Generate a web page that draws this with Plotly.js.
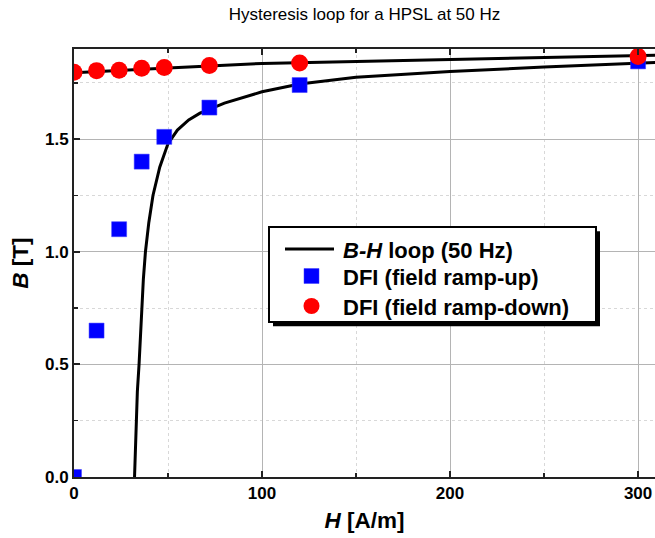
<!DOCTYPE html>
<html><head><meta charset="utf-8">
<script src="https://cdn.plot.ly/plotly-3.0.1.min.js"></script>
<style>html,body{margin:0;padding:0;background:#fff}</style>
</head><body>
<div id="chart" style="width:655px;height:538px"></div>
<script>
// B-H loop (50 Hz): upper (ramp-down) branch and lower (ramp-up) branch
const loopUpperH = [310, 250, 200, 150, 100, 50, 0];
const loopUpperB = [1.872, 1.862, 1.854, 1.846, 1.836, 1.816, 1.795];
const loopLowerH = [32.2, 32.6, 33.0, 33.7, 34.6, 35.2, 35.9, 36.9, 38.0, 39.8, 42.0, 45.6, 50.0, 55.0, 61.0, 67.0, 80.0, 100.0, 120.0, 150.0, 200.0, 250.0, 310.0];
const loopLowerB = [0.0, 0.12, 0.25, 0.38, 0.5, 0.62, 0.75, 0.88, 1.0, 1.13, 1.25, 1.375, 1.48, 1.54, 1.585, 1.615, 1.66, 1.71, 1.745, 1.775, 1.80, 1.82, 1.84];

// DFI measurements
const dfiH = [0, 12, 24, 36, 48, 72, 120, 300];
const dfiUpB = [0.0, 0.65, 1.10, 1.40, 1.51, 1.64, 1.74, 1.845];
const dfiDownB = [1.797, 1.804, 1.806, 1.815, 1.818, 1.827, 1.838, 1.867];

const legendLabels = ['<i>B-H</i> loop (50 Hz)', 'DFI (field ramp-up)', 'DFI (field ramp-down)'];
const titleText = 'Hysteresis loop for a HPSL at 50 Hz';

const F = 'Arial, "Liberation Sans", sans-serif';

const loopH = loopUpperH.concat([null], loopLowerH);
const loopB = loopUpperB.concat([null], loopLowerB);

const traces = [
  {x: loopH, y: loopB, mode: 'lines', name: legendLabels[0],
   line: {color: '#000', width: 3}, connectgaps: false},
  {x: dfiH, y: dfiUpB, mode: 'markers', name: legendLabels[1],
   marker: {symbol: 'square', size: 15, color: '#0000ff', line: {color: '#3f3fff', width: 0.5}}},
  {x: dfiH, y: dfiDownB, mode: 'markers', name: legendLabels[2],
   marker: {symbol: 'circle', size: 17, color: '#ff0000', line: {width: 0}}}
];

const axisCommon = {
  showline: true, linecolor: '#222', linewidth: 2,
  ticks: 'inside', ticklen: 6, tickwidth: 2, tickcolor: '#222',
  showgrid: true, gridcolor: '#b4b4b4', gridwidth: 1,
  zeroline: false, mirror: false,
  tickfont: {family: F, size: 17, color: '#000', weight: 'bold'}
};

const PL = 74, PW = 581, PT = 49, PH = 427.5;
// legend box (px) from the reference
const LG = {left: 268, top: 226, width: 327, height: 95, rows: [246, 276, 306], shadow: 5};
const py = function(v){ return 1 - (v - PT) / PH; };
const px = function(v){ return (v - PL) / PW; };

const layout = {
  width: 655, height: 538,
  margin: {l: PL, r: 0, t: PT, b: 61},
  paper_bgcolor: '#fff', plot_bgcolor: '#fff',
  showlegend: true,
  title: {text: titleText, font: {family: F, size: 17, color: '#000'},
          x: 0.5, xref: 'paper', y: 1 - 14/538, yref: 'container', yanchor: 'middle'},
  xaxis: Object.assign({}, axisCommon, {
    range: [0, 309], tickvals: [0, 100, 200, 300], mirror: 'ticks',
    minor: {tickvals: [50, 150, 250], ticks: 'inside', ticklen: 4, tickwidth: 1.5, tickcolor: '#222',
            showgrid: true, gridcolor: '#d8d8d8', griddash: 'dot', gridwidth: 1},
    title: {text: '<b><i>H</i> [A/m]</b>', font: {family: F, size: 22.5, color: '#000'}, standoff: 10}
  }),
  yaxis: Object.assign({}, axisCommon, {
    range: [0, 1.9], tickvals: [0, 0.5, 1.0, 1.5], tickformat: '.1f',
    minor: {tickvals: [0.25, 0.75, 1.25, 1.75], ticks: 'inside', ticklen: 4, tickwidth: 1.5, tickcolor: '#222',
            showgrid: true, gridcolor: '#d8d8d8', griddash: 'dot', gridwidth: 1},
    title: {text: '<b><i>B</i> [T]</b>', font: {family: F, size: 22.5, color: '#000'}, standoff: 10}
  }),
  legend: {
    x: px(LG.left), y: py(LG.top), xanchor: 'left', yanchor: 'top',
    bgcolor: '#fff', bordercolor: '#000', borderwidth: 2,
    font: {family: F, size: 22, color: '#000', weight: 'bold'},
    itemwidth: 63
  },
  shapes: [{type: 'rect', xref: 'paper', yref: 'paper',
    x0: px(LG.left + LG.shadow), x1: px(LG.left + LG.width + LG.shadow),
    y0: py(LG.top + LG.height + LG.shadow), y1: py(LG.top + LG.shadow),
    fillcolor: '#000', line: {width: 0}, layer: 'above'}]
};

function parseTr(t){
  const m = /translate\(\s*([-\d.e]+)[ ,]+([-\d.e]+)\s*\)/.exec(t || '');
  return m ? [parseFloat(m[1]), parseFloat(m[2])] : [0, 0];
}

Plotly.newPlot('chart', traces, layout, {displayModeBar: false, staticPlot: true}).then(function(gd){
  const bg = gd.querySelector('.legend .bg');
  if (!bg) return;
  // size the legend box like the reference
  let r = bg.getBoundingClientRect();
  bg.setAttribute('width', parseFloat(bg.getAttribute('width')) + (LG.width - r.width));
  bg.setAttribute('height', parseFloat(bg.getAttribute('height')) + (LG.height - r.height));
  r = bg.getBoundingClientRect();
  const c = gd.getBoundingClientRect();
  const L = r.left;
  // legend line sample: 16..65 px from the legend's left edge
  gd.querySelectorAll('.legend .legendlines path').forEach(function(p){
    const pr = p.getBoundingClientRect();
    const m = /M([-\d.]+),([-\d.]+)/.exec(p.getAttribute('d'));
    if (!m) return;
    const sx = parseFloat(m[1]) + (L + 16 - pr.left);
    p.setAttribute('d', 'M' + sx + ',' + m[2] + 'h49');
  });
  // legend markers centred 42.5 px from the legend's left edge
  gd.querySelectorAll('.legend .legendpoints').forEach(function(g){
    const pr = g.getBoundingClientRect();
    if (pr.width === 0) return;
    const cx = pr.left + pr.width / 2;
    g.setAttribute('transform', 'translate(' + (L + 42.5 - cx) + ',0)');
  });
  // row spacing like the reference
  gd.querySelectorAll('.legend g.traces').forEach(function(g, i){
    if (i >= LG.rows.length) return;
    let sym = g.querySelector('.legendlines path');
    let sr = sym ? sym.getBoundingClientRect() : null;
    if (!sr || sr.height === 0) {
      sym = g.querySelector('.legendpoints path');
      sr = sym ? sym.getBoundingClientRect() : null;
    }
    if (!sr) return;
    const cy = sr.top + sr.height / 2 - c.top;
    const tr = parseTr(g.getAttribute('transform'));
    g.setAttribute('transform', 'translate(' + tr[0] + ',' + (tr[1] + LG.rows[i] - cy) + ')');
  });
});
</script>
</body></html>
